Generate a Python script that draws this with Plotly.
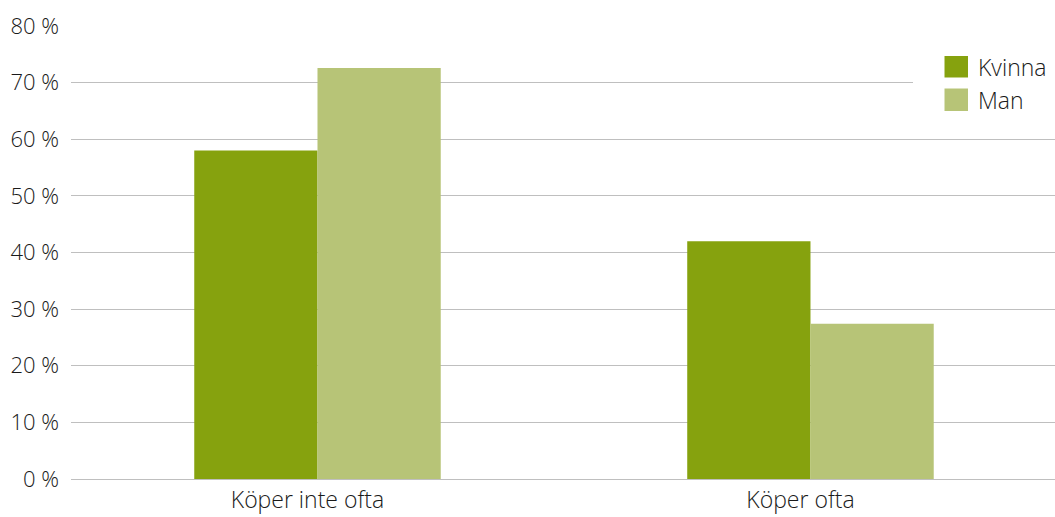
import plotly.graph_objects as go

categories = ["Köper inte ofta", "Köper ofta"]
kvinna = [58.0, 42.0]
man = [72.6, 27.4]
y_ticks = [0, 10, 20, 30, 40, 50, 60, 70, 80]
y_tick_labels = [f"{v} %" for v in y_ticks]

C_KVINNA = "#86A20E"
C_MAN = "#B7C477"
FONT = "Open Sans"
TEXT = "#1a1a1a"

W, H = 1055, 517
ML, MR, MT, MB = 71, 0, 26, 38
PW, PH = W - ML - MR, H - MT - MB


def px_x(x):
    return (x - ML) / PW


def px_y(y):
    return (H - MB - y) / PH


fig = go.Figure()
fig.add_trace(go.Bar(x=categories, y=kvinna, name="Kvinna", marker_color=C_KVINNA,
                     marker_line_width=0, showlegend=False))
fig.add_trace(go.Bar(x=categories, y=man, name="Man", marker_color=C_MAN,
                     marker_line_width=0, showlegend=False))

shapes = [
    # white panel behind the legend
    dict(type="rect", xref="paper", yref="paper", layer="above",
         x0=px_x(913), x1=px_x(1060), y0=px_y(125), y1=px_y(45),
         fillcolor="white", line_width=0),
]
annotations = []
legend_items = [("Kvinna", C_KVINNA, 56, 77.5), ("Man", C_MAN, 88.5, 111)]
for name, col, top, bot in legend_items:
    shapes.append(dict(type="rect", xref="paper", yref="paper", layer="above",
                       x0=px_x(944.5), x1=px_x(968), y0=px_y(bot), y1=px_y(top),
                       fillcolor=col, line_width=0))
    annotations.append(dict(text=name, xref="paper", yref="paper",
                            x=px_x(976), y=px_y((top + bot) / 2 + 0.5),
                            xanchor="left", yanchor="middle", showarrow=False,
                            font=dict(family=FONT, size=23, weight=300, color=TEXT)))

fig.update_layout(
    width=W, height=H,
    margin=dict(l=ML, r=MR, t=MT, b=MB, pad=0),
    paper_bgcolor="white", plot_bgcolor="white",
    barmode="group", bargap=0.5, bargroupgap=0,
    font=dict(family=FONT, size=22, weight=300, color=TEXT),
    shapes=shapes, annotations=annotations,
    xaxis=dict(range=[-0.5, 1.496], showgrid=False, showline=False, zeroline=False,
               ticks="", ticklabelstandoff=5, ticklabelshift=-10, automargin=False,
               tickfont=dict(family=FONT, size=23, weight=300, color=TEXT)),
    yaxis=dict(range=[0, 80], tickvals=y_ticks, ticktext=y_tick_labels,
               showgrid=True, gridcolor="#BFBFBF", gridwidth=1.3,
               zeroline=True, zerolinecolor="#BFBFBF", zerolinewidth=1.3,
               showline=False, ticks="", ticklabelstandoff=11, automargin=False,
               tickfont=dict(family=FONT, size=22, weight=300, color=TEXT)),
)

fig.write_html("out.html")
